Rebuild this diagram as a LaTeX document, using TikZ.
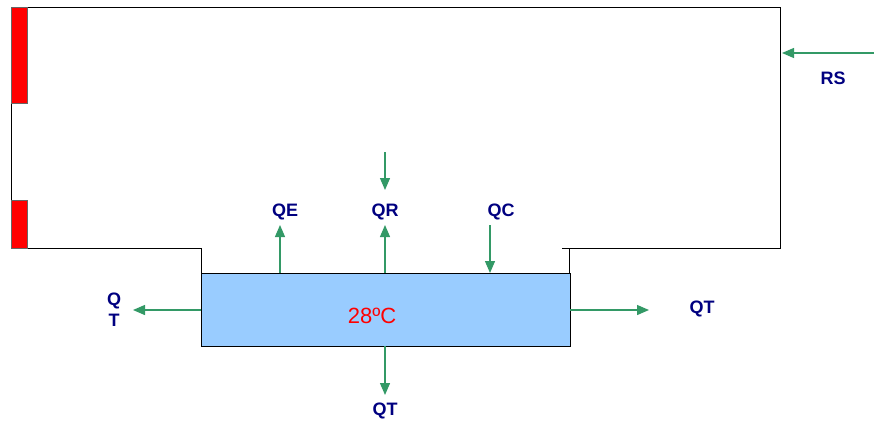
\documentclass[tikz,border=0pt]{standalone}
\usepackage{fontspec}
\setmainfont{Liberation Sans}
\usetikzlibrary{arrows.meta}
\definecolor{navy}{RGB}{0,0,128}
\definecolor{flow}{RGB}{51,153,102}
\definecolor{water}{RGB}{153,204,255}
\tikzset{
  wall/.style={draw=black, line width=1pt},
  flowarrow/.style={draw=flow, line width=1.3pt, -{Triangle[length=12pt,width=10pt]}},
  lbl/.style={text=navy, font=\fontsize{18}{20}\selectfont\bfseries, inner sep=0pt},
}
\begin{document}
\begin{tikzpicture}[x=1pt,y=-1pt]
\useasboundingbox (0,0) rectangle (874,421);
% building outline
\draw[wall] (201,273) -- (201,248) -- (11,248) -- (11,7) -- (780,7) -- (780,248) -- (562,248);
\draw[wall] (569,248) -- (569,273);
% red windows
\draw[fill=red, draw=black!60, line width=0.8pt] (11,7) rectangle (27,103);
\draw[fill=red, draw=black!60, line width=0.8pt] (11,200) rectangle (27,248);
% pool
\draw[fill=water, draw=black, line width=1pt] (201,273) rectangle (570,346);
\node[text=red, font=\fontsize{22}{24}\selectfont, inner sep=0pt] (temp) at (372,316) {28ºC};
% coordinates
\coordinate (rs0) at (874,53); \coordinate (rs1) at (782,53);
\coordinate (qrd0) at (385,152); \coordinate (qrd1) at (385,190);
\coordinate (qe0) at (280,273); \coordinate (qe1) at (280,225);
\coordinate (qr0) at (385,273); \coordinate (qr1) at (385,225);
\coordinate (qc0) at (490,225); \coordinate (qc1) at (490,273);
\coordinate (qtl0) at (201,310); \coordinate (qtl1) at (133,310);
\coordinate (qtr0) at (570,310); \coordinate (qtr1) at (649,310);
\coordinate (qtb0) at (385,346); \coordinate (qtb1) at (385,395);
% arrows
\draw[flowarrow] (rs0) -- (rs1);
\draw[flowarrow] (qrd0) -- (qrd1);
\draw[flowarrow] (qe0) -- (qe1);
\draw[flowarrow] (qr0) -- (qr1);
\draw[flowarrow] (qc0) -- (qc1);
\draw[flowarrow] (qtl0) -- (qtl1);
\draw[flowarrow] (qtr0) -- (qtr1);
\draw[flowarrow] (qtb0) -- (qtb1);
% labels
\node[lbl] (lrs) at (833,78) {RS};
\node[lbl] (lqe) at (285,212) {QE};
\node[lbl] (lqr) at (385,212) {QR};
\node[lbl] (lqc) at (501,212) {QC};
\node[lbl, align=center, font=\fontsize{18}{21}\selectfont\bfseries] (lqtl) at (114,310) {Q\\T};
\node[lbl] (lqtr) at (702,309) {QT};
\node[lbl] (lqtb) at (385,411) {QT};
\end{tikzpicture}
\end{document}
